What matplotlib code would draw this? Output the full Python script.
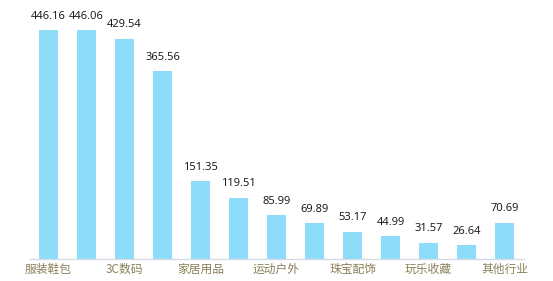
import matplotlib
matplotlib.use("Agg")
import matplotlib.pyplot as plt

plt.rcParams['font.family'] = ['Noto Sans CJK SC', 'DejaVu Sans']

# categories (only every other one is labelled in the chart)
categories = ['服装鞋包', '食品饮料', '3C数码', '美妆个护', '家居用品', '母婴用品',
              '运动户外', '图书文娱', '珠宝配饰', '汽车用品', '玩乐收藏', '宠物用品', '其他行业']
values = [446.16, 446.06, 429.54, 365.56, 151.35, 119.51,
          85.99, 69.89, 53.17, 44.99, 31.57, 26.64, 70.69]

W, H = 553, 281
fig = plt.figure(figsize=(W / 100, H / 100), dpi=100)
ax = fig.add_axes([29.5 / W, (H - 259) / H, 494 / W, (259 - 2.4) / H])

x = list(range(len(categories)))
bars = ax.bar(x, values, width=0.5, color='#8DDCF9')

for xi, v in zip(x, values):
    ax.annotate(f"{v:.2f}", (xi, v), xytext=(0, 6), textcoords='offset points',
                ha='center', va='bottom', fontsize=8, color='#111111',
                family=['Open Sans', 'DejaVu Sans'])

ax.set_xlim(-0.5, len(categories) - 0.5)
ax.set_ylim(0, 500)
ax.set_xticks(x[::2])
ax.set_xticklabels(categories[::2], fontsize=8.5, color='#8A8058')
ax.tick_params(axis='x', length=0, pad=3)
ax.set_yticks([])
for side in ['top', 'right', 'left']:
    ax.spines[side].set_visible(False)
ax.spines['bottom'].set_color('#D3DCE6')
ax.spines['bottom'].set_linewidth(1)

fig.savefig('out.png', dpi=100)
